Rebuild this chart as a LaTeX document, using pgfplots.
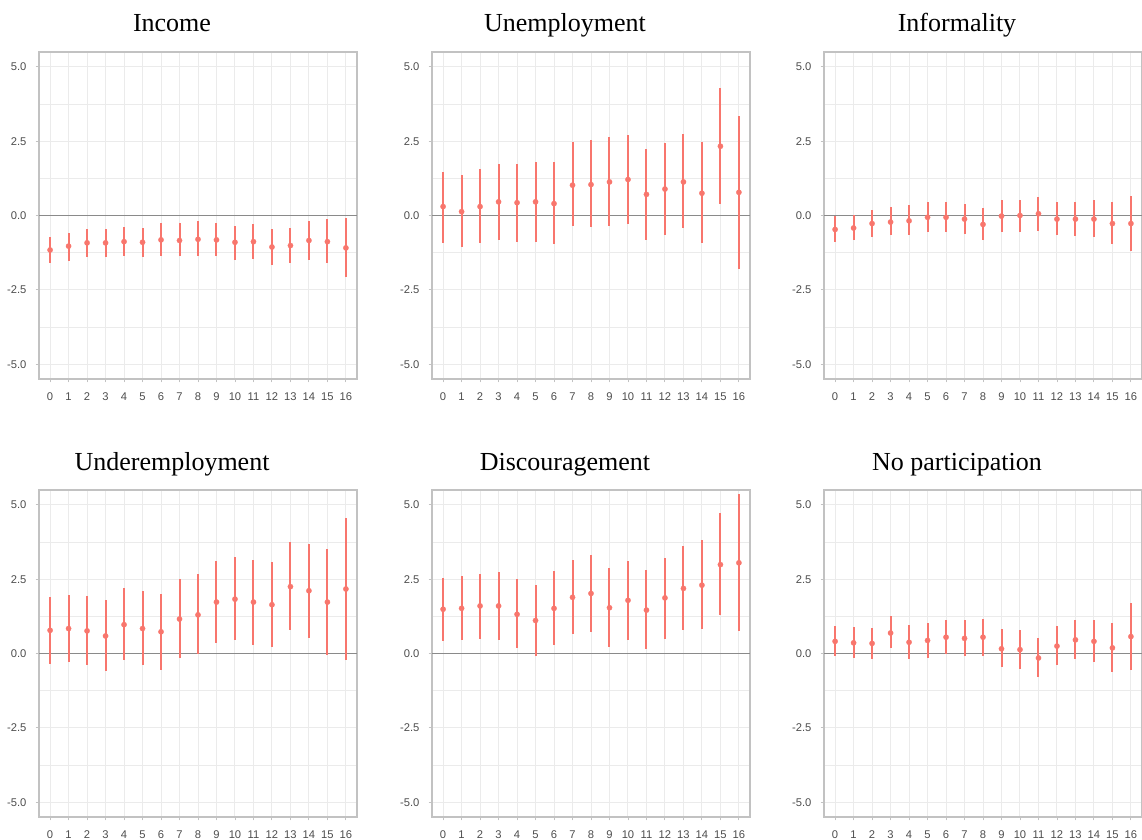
\documentclass[border=0pt]{standalone}
\usepackage{pgfplots}
\pgfplotsset{compat=1.18}
\usepackage{pgfplotstable}
\usepackage{fontspec}
\setmainfont{Liberation Serif}
\newfontfamily\tickfont{Liberation Sans}
\definecolor{salmon}{HTML}{F8766D}
\definecolor{gridc}{HTML}{EBEBEB}
\definecolor{borderc}{HTML}{C2C2C2}
\definecolor{zeroc}{HTML}{8A8A8A}
\definecolor{tickc}{HTML}{4D4D4D}

\pgfplotstableread{
x y lo hi
0 -1.16 -1.61 -0.73
1 -1.03 -1.52 -0.58
2 -0.92 -1.40 -0.47
3 -0.92 -1.40 -0.45
4 -0.88 -1.37 -0.39
5 -0.90 -1.40 -0.43
6 -0.82 -1.35 -0.26
7 -0.84 -1.37 -0.26
8 -0.80 -1.35 -0.20
9 -0.82 -1.37 -0.24
10 -0.90 -1.48 -0.36
11 -0.88 -1.46 -0.29
12 -1.06 -1.65 -0.47
13 -1.01 -1.61 -0.42
14 -0.84 -1.48 -0.19
15 -0.88 -1.61 -0.13
16 -1.09 -2.08 -0.09
}\income
\pgfplotstableread{
x y lo hi
0 0.30 -0.92 1.48
1 0.13 -1.07 1.35
2 0.30 -0.93 1.55
3 0.46 -0.84 1.73
4 0.43 -0.89 1.73
5 0.46 -0.89 1.79
6 0.40 -0.97 1.79
7 1.02 -0.36 2.46
8 1.04 -0.39 2.53
9 1.13 -0.34 2.63
10 1.21 -0.28 2.71
11 0.71 -0.81 2.24
12 0.89 -0.64 2.44
13 1.13 -0.43 2.73
14 0.75 -0.91 2.46
15 2.33 0.39 4.28
16 0.78 -1.81 3.36
}\unemp
\pgfplotstableread{
x y lo hi
0 -0.47 -0.90 -0.02
1 -0.42 -0.84 0.03
2 -0.27 -0.73 0.20
3 -0.22 -0.67 0.28
4 -0.18 -0.64 0.34
5 -0.06 -0.54 0.45
6 -0.06 -0.57 0.47
7 -0.12 -0.62 0.39
8 -0.30 -0.82 0.25
9 -0.02 -0.56 0.52
10 0.00 -0.56 0.53
11 0.06 -0.51 0.61
12 -0.12 -0.64 0.47
13 -0.12 -0.69 0.46
14 -0.12 -0.72 0.51
15 -0.27 -0.96 0.45
16 -0.27 -1.20 0.67
}\informal
\pgfplotstableread{
x y lo hi
0 0.78 -0.35 1.90
1 0.84 -0.28 1.98
2 0.76 -0.40 1.92
3 0.59 -0.59 1.79
4 0.97 -0.23 2.20
5 0.84 -0.40 2.09
6 0.73 -0.56 2.00
7 1.16 -0.16 2.50
8 1.30 -0.03 2.66
9 1.73 0.37 3.12
10 1.83 0.47 3.24
11 1.73 0.30 3.14
12 1.64 0.22 3.07
13 2.25 0.79 3.74
14 2.11 0.53 3.68
15 1.73 -0.06 3.51
16 2.17 -0.23 4.57
}\underemp
\pgfplotstableread{
x y lo hi
0 1.49 0.41 2.55
1 1.52 0.44 2.60
2 1.60 0.49 2.69
3 1.60 0.46 2.74
4 1.32 0.17 2.49
5 1.11 -0.07 2.30
6 1.52 0.30 2.76
7 1.89 0.67 3.14
8 2.02 0.74 3.30
9 1.54 0.22 2.87
10 1.79 0.46 3.11
11 1.46 0.15 2.80
12 1.87 0.49 3.22
13 2.19 0.79 3.60
14 2.30 0.83 3.81
15 2.99 1.31 4.74
16 3.05 0.76 5.35
}\discour
\pgfplotstableread{
x y lo hi
0 0.41 -0.10 0.93
1 0.36 -0.15 0.89
2 0.34 -0.20 0.86
3 0.69 0.17 1.25
4 0.38 -0.18 0.96
5 0.44 -0.15 1.01
6 0.55 -0.03 1.14
7 0.51 -0.07 1.14
8 0.55 -0.10 1.16
9 0.16 -0.45 0.83
10 0.13 -0.51 0.78
11 -0.15 -0.79 0.51
12 0.25 -0.40 0.93
13 0.46 -0.20 1.14
14 0.41 -0.29 1.14
15 0.19 -0.61 1.03
16 0.57 -0.54 1.71
}\nopart

\pgfplotsset{
  panel/.style={
    scale only axis,
    width=238.5pt, height=245.25pt,
    anchor=north west,
    xmin=-0.6, xmax=16.6,
    ymin=-5.5, ymax=5.5,
    xtick={0,...,16},
    xticklabels={0,1,2,3,4,5,6,7,8,9,10,11,12,13,14,15,16},
    ytick={-5,-2.5,0,2.5,5},
    yticklabels={-5.0,-2.5,0.0,2.5,5.0},
    minor ytick={-3.75,-1.25,1.25,3.75},
    xmajorgrids, ymajorgrids, yminorgrids,
    major grid style={color=gridc, line width=0.75pt},
    minor grid style={color=gridc, line width=0.5pt},
    axis line style={color=borderc, line width=1pt},
    tick align=outside,
    xtick pos=bottom, ytick pos=left,
    major tick length=2.6pt,
    minor tick length=0pt,
    tick style={color=borderc, line width=0.7pt},
    xticklabel style={font=\tickfont\fontsize{8.4}{9}\selectfont, text=tickc, inner sep=0pt, anchor=north, yshift=-7.6pt},
    yticklabel style={font=\tickfont\fontsize{8.4}{9}\selectfont, text=tickc, inner sep=0pt, anchor=east, xshift=-6.6pt},
  },
  pts/.style={
    only marks, mark=*, mark size=2pt,
    mark options={fill=salmon, draw=salmon, line width=0.2pt},
    color=salmon,
    error bars/.cd, y dir=both, y explicit,
      error mark=none,
      error bar style={color=salmon, line width=1.5pt},
  },
}

\newcommand{\panelplot}[1]{%
  \addplot[zeroc, line width=0.75pt, forget plot] coordinates {(-0.6,0) (16.6,0)};
  \addplot[pts] table[x=x, y=y,
     y error plus expr=\thisrow{hi}-\thisrow{y},
     y error minus expr=\thisrow{y}-\thisrow{lo}] {#1};
}

\begin{document}
\begin{tikzpicture}
\path[use as bounding box] (0,0) rectangle (856.5pt,-629.25pt);

\begin{axis}[panel, at={(29.25pt,-39pt)}]
\panelplot{\income}
\end{axis}
\begin{axis}[panel, at={(324pt,-39pt)}]
\panelplot{\unemp}
\end{axis}
\begin{axis}[panel, at={(618pt,-39pt)}]
\panelplot{\informal}
\end{axis}
\begin{axis}[panel, at={(29.25pt,-367.5pt)}]
\panelplot{\underemp}
\end{axis}
\begin{axis}[panel, at={(324pt,-367.5pt)}]
\panelplot{\discour}
\end{axis}
\begin{axis}[panel, at={(618pt,-367.5pt)}]
\panelplot{\nopart}
\end{axis}

\begin{scope}[every node/.style={anchor=base, inner sep=0pt, font=\fontsize{19.5}{22}\selectfont}]
\node at (129pt,-23.8pt) {Income};
\node at (423.75pt,-23.8pt) {Unemployment};
\node at (717.75pt,-23.8pt) {Informality};
\node at (129pt,-352.5pt) {Underemployment};
\node at (423.75pt,-352.5pt) {Discouragement};
\node at (717.75pt,-352.5pt) {No participation};
\end{scope}
\end{tikzpicture}
\end{document}
